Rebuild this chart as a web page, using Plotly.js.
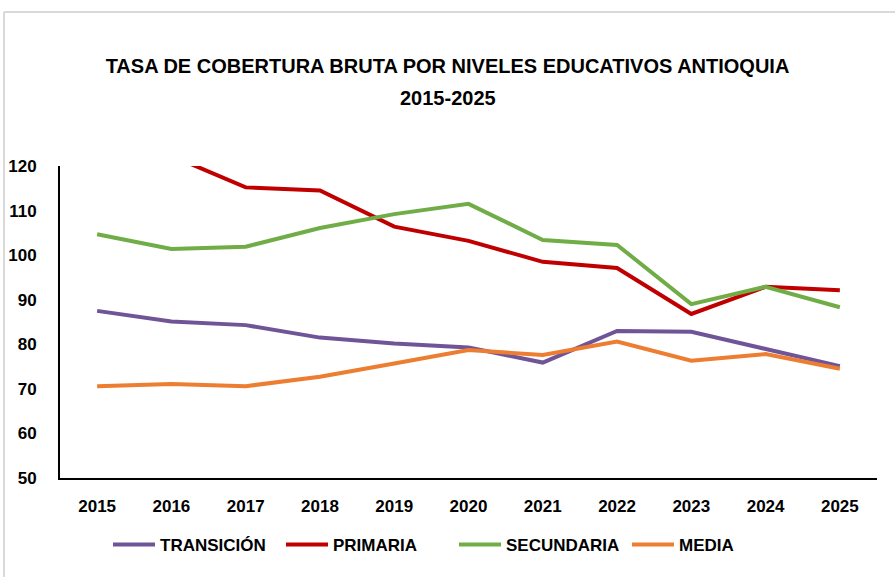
<!DOCTYPE html>
<html>
<head>
<meta charset="utf-8">
<script src="https://cdn.plot.ly/plotly-3.0.1.min.js"></script>
<style>
  html, body { margin: 0; padding: 0; background: #ffffff; }
  #chart { width: 895px; height: 577px; }
</style>
</head>
<body>
<div id="chart"></div>
<script>
const years = ['2015','2016','2017','2018','2019','2020','2021','2022','2023','2024','2025'];
const transicion = [87.5, 85.1, 84.3, 81.5, 80.2, 79.3, 75.9, 83.0, 82.8, 78.9, 75.1];
const primaria   = [123.0, 122.3, 115.2, 114.5, 106.4, 103.2, 98.5, 97.1, 86.8, 92.9, 92.1];
const secundaria = [104.7, 101.4, 101.9, 106.1, 109.2, 111.5, 103.4, 102.3, 89.0, 92.9, 88.3];
const media      = [70.6, 71.1, 70.6, 72.7, 75.7, 78.7, 77.6, 80.6, 76.3, 77.8, 74.5];
const yTicks = [50, 60, 70, 80, 90, 100, 110, 120];

const FONT = 'Liberation Sans, Arial, sans-serif';

function series(name, values, color) {
  return {
    type: 'scatter', mode: 'lines', name: name,
    x: years, y: values,
    line: { color: color, width: 4 },
    hoverinfo: 'x+y+name'
  };
}

const data = [
  series('TRANSICIÓN', transicion, '#6F5597'),
  series('PRIMARIA', primaria, '#C00000'),
  series('SECUNDARIA', secundaria, '#70AD47'),
  series('MEDIA', media, '#ED7D31')
];

const layout = {
  width: 895, height: 577,
  margin: { l: 60, r: 18, t: 166, b: 99 },
  paper_bgcolor: '#ffffff', plot_bgcolor: '#ffffff',
  font: { family: FONT, color: '#000000', size: 17 },
  title: {
    text: '<b>TASA DE COBERTURA BRUTA POR NIVELES EDUCATIVOS ANTIOQUIA</b>',
    font: { family: FONT, size: 20, color: '#000000' },
    x: 0.5, xref: 'container', xanchor: 'center',
    y: 1 - 66/577, yref: 'container', yanchor: 'middle'
  },
  annotations: [{
    text: '<b>2015-2025</b>',
    xref: 'paper', yref: 'paper', x: (447.5 - 60) / 817, y: (478 - 98) / 312,
    xanchor: 'center', yanchor: 'middle', showarrow: false,
    font: { family: FONT, size: 20, color: '#000000' }
  }],
  xaxis: {
    type: 'category', range: [-0.5, 10.5],
    showline: true, linecolor: '#000000', linewidth: 2,
    showgrid: false, zeroline: false, ticks: '',
    tickfont: { family: FONT, size: 17, color: '#000000', weight: 'bold' },
    ticklabelstandoff: 12, fixedrange: true
  },
  yaxis: {
    range: [50, 120], tickvals: yTicks, ticktext: yTicks.map(String),
    showline: true, linecolor: '#000000', linewidth: 2,
    showgrid: false, zeroline: false, ticks: '',
    tickfont: { family: FONT, size: 17, color: '#000000', weight: 'bold' },
    ticklabelstandoff: 18, fixedrange: true
  },
  showlegend: true,
  legend: {
    orientation: 'h', x: (108 - 60) / 817, xanchor: 'left',
    y: (478 - 545) / 312, yanchor: 'middle',
    font: { family: FONT, size: 17, color: '#000000', weight: 'bold' },
    itemwidth: 42, bgcolor: 'rgba(0,0,0,0)', tracegroupgap: 0,
    entrywidthmode: 'pixels', entrywidth: 116
  },
  shapes: [
    { type: 'line', xref: 'paper', yref: 'paper', x0: (4 - 60) / 817, x1: (895 - 60) / 817,
      y0: (478 - 12) / 312, y1: (478 - 12) / 312, line: { color: '#d9d9d9', width: 2 } },
    { type: 'line', xref: 'paper', yref: 'paper', x0: (4 - 60) / 817, x1: (4 - 60) / 817,
      y0: (478 - 12) / 312, y1: (478 - 577) / 312, line: { color: '#d9d9d9', width: 2 } }
  ]
};

Plotly.newPlot('chart', data, layout, { displayModeBar: false, staticPlot: false });
</script>
</body>
</html>
